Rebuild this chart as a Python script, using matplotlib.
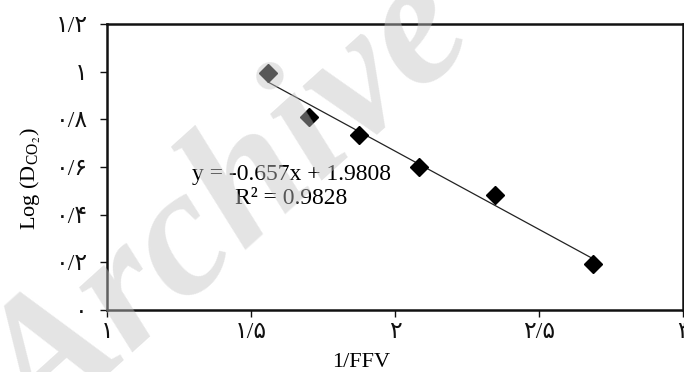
import numpy as np
import matplotlib
matplotlib.use("Agg")
from matplotlib import pyplot as plt

plt.rcParams['font.family'] = ['Liberation Serif', 'DejaVu Sans']
plt.rcParams['mathtext.fontset'] = 'stix'

# data
inv_ffv = [1.560, 1.702, 1.875, 2.082, 2.347, 2.689]
log_d = [0.993, 0.811, 0.733, 0.601, 0.483, 0.193]

# trendline as printed on the chart
slope = -0.657
intercept = 1.9808
r2 = 0.9828

x_ticks = [1, 1.5, 2, 2.5, 3]
x_tick_labels = ['۱', '۱/۵', '۲', '۲/۵', '۳']
y_ticks = [0, 0.2, 0.4, 0.6, 0.8, 1.0, 1.2]
y_tick_labels = ['۰', '۰/۲', '۰/۴', '۰/۶', '۰/۸', '۱', '۱/۲']

fig = plt.figure(figsize=(6.84, 3.72), dpi=100)
ax = fig.add_axes([107 / 684, 62 / 372, 576 / 684, 286 / 372])

ax.plot(inv_ffv, log_d, linestyle='none', marker='D', markersize=9,
        color='black', zorder=3)

xs = np.array([min(inv_ffv), max(inv_ffv)])
ax.plot(xs, slope * xs + intercept, color='#222222', linewidth=0.9, zorder=2)

ax.text(1.639, 0.517, f"y = {slope}x + {intercept}\nR² = {r2}",
        ha='center', va='center', multialignment='center', fontsize=17,
        linespacing=1.2)

ax.set_xlim(1, 3)
ax.set_ylim(0, 1.2)
ax.set_xticks(x_ticks)
ax.set_xticklabels(x_tick_labels, fontsize=17)
ax.set_yticks(y_ticks)
ax.set_yticklabels(y_tick_labels, fontsize=17)
ax.tick_params(direction='out', length=5, width=1, colors='#111111')
ax.tick_params(axis='y', pad=9)
ax.tick_params(axis='x', pad=4)

for sp in ax.spines.values():
    sp.set_linewidth(1.8)
    sp.set_color('#111111')

ax.set_xlabel('1/FFV', fontsize=16)
ax.xaxis.set_label_coords(0.441, -0.15)
ax.set_ylabel(r'Log (D$_{\mathregular{CO}_2}$)', fontsize=16)
ax.yaxis.set_label_coords(-0.111, 0.458)

# watermark
fig.text(232 / 684, 1 - 212 / 372, 'Archive', fontsize=132, fontweight='bold',
         fontstyle='italic', color='#c4c4c4', alpha=0.45, rotation=42,
         ha='center', va='center', rotation_mode='anchor', zorder=10)

fig.savefig('out.png', dpi=100)
